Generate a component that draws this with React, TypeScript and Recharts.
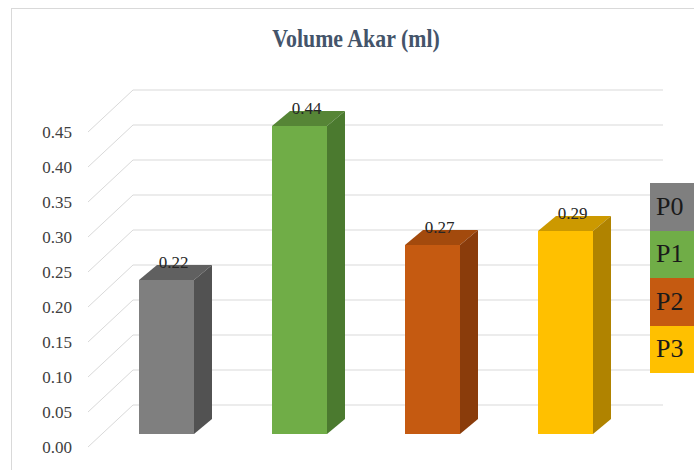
import { Bar, BarChart, CartesianGrid, LabelList, XAxis, YAxis } from "recharts";

const categories = ["P0", "P1", "P2", "P3"];
const volumes = [0.22, 0.44, 0.27, 0.29];
const yTicks = [0, 0.05, 0.1, 0.15, 0.2, 0.25, 0.3, 0.35, 0.4, 0.45];

const frontColors = ["#7f7f7f", "#70ad47", "#c55a11", "#ffc000"];
const sideColors = ["#525252", "#4b7a2f", "#8a3c0b", "#b08300"];
const topColors = ["#606060", "#568536", "#a34a0d", "#cc9900"];

const data = categories.map((name, i) => ({ name, value: volumes[i], idx: i }));

// fake 3d offsets
const DX = 18;
const DY = 15;
const LIFT = 13;
const FONT = "Liberation Serif, serif";

function Bar3D(props: any) {
  const { x, y, width, height, payload, index } = props;
  const i = payload?.idx ?? index ?? 0;
  const fy = y - LIFT;
  const w = width;
  const h = height;
  return (
    <g>
      <rect x={x} y={fy} width={w} height={h} fill={frontColors[i]} />
      <path
        d={`M${x},${fy} L${x + DX},${fy - DY} L${x + w + DX},${fy - DY} L${x + w},${fy} Z`}
        fill={topColors[i]}
      />
      <path
        d={`M${x + w},${fy} L${x + w + DX},${fy - DY} L${x + w + DX},${fy + h - DY} L${x + w},${fy + h} Z`}
        fill={sideColors[i]}
      />
    </g>
  );
}

function ValueLabel(props: any) {
  const { x, y, width, value } = props;
  return (
    <text
      x={x + width / 2 + 7}
      y={y - LIFT - 12}
      textAnchor="middle"
      fontFamily={FONT}
      fontSize={17}
      fill="#262626"
    >
      {Number(value).toFixed(2)}
    </text>
  );
}

function gridLine(props: any) {
  const { x1, y1, x2 } = props;
  return (
    <path
      key={`grid-${y1}`}
      d={`M${x1 - 12},${y1} L${x1 + 33},${y1 - 42} L${x2 + 31},${y1 - 42}`}
      stroke="#d9d9d9"
      strokeWidth={1}
      fill="none"
    />
  );
}

function LegendBoxes() {
  return (
    <div style={{ position: "absolute", left: 650, top: 183, width: 50 }}>
      {categories.map((c, i) => (
        <div
          key={c}
          style={{
            background: frontColors[i],
            height: 47.5,
            width: 50,
            display: "flex",
            alignItems: "center",
            paddingLeft: 6,
            boxSizing: "border-box",
            fontFamily: FONT,
            fontSize: 26,
            color: "#1a1a1a",
          }}
        >
          {c}
        </div>
      ))}
    </div>
  );
}

export default function App() {
  return (
    <div
      style={{
        position: "absolute",
        left: 0,
        top: 0,
        width: 694,
        height: 470,
        background: "#fff",
        overflow: "hidden",
      }}
    >
      <div
        style={{
          position: "absolute",
          left: 11,
          top: 8,
          width: 720,
          height: 500,
          borderLeft: "1px solid #d9d9d9",
          borderTop: "1px solid #d9d9d9",
        }}
      />
      <div
        style={{
          position: "absolute",
          left: 0,
          width: 712,
          top: 24,
          textAlign: "center",
          fontFamily: FONT,
          fontWeight: "bold",
          fontSize: 26,
          color: "#44546a",
          transform: "scaleX(0.84)",
        }}
      >
        Volume Akar (ml)
      </div>
      <div style={{ position: "absolute", left: 0, top: 0 }}>
        <BarChart
          width={694}
          height={470}
          data={data}
          margin={{ top: 132, right: 62, bottom: 23, left: 0 }}
        >
          <CartesianGrid horizontal={gridLine} vertical={false} />
          <XAxis dataKey="name" hide />
          <YAxis
            domain={[0, 0.45]}
            ticks={yTicks}
            interval={0}
            tickFormatter={(v: number) => v.toFixed(2)}
            axisLine={false}
            tickLine={false}
            tickSize={0}
            tickMargin={28}
            width={100}
            tick={{ fontSize: 17, fontFamily: FONT, fill: "#404040" }}
          />
          <Bar dataKey="value" barSize={55} shape={<Bar3D />} isAnimationActive={false}>
            <LabelList dataKey="value" content={<ValueLabel />} />
          </Bar>
        </BarChart>
      </div>
      <LegendBoxes />
    </div>
  );
}
